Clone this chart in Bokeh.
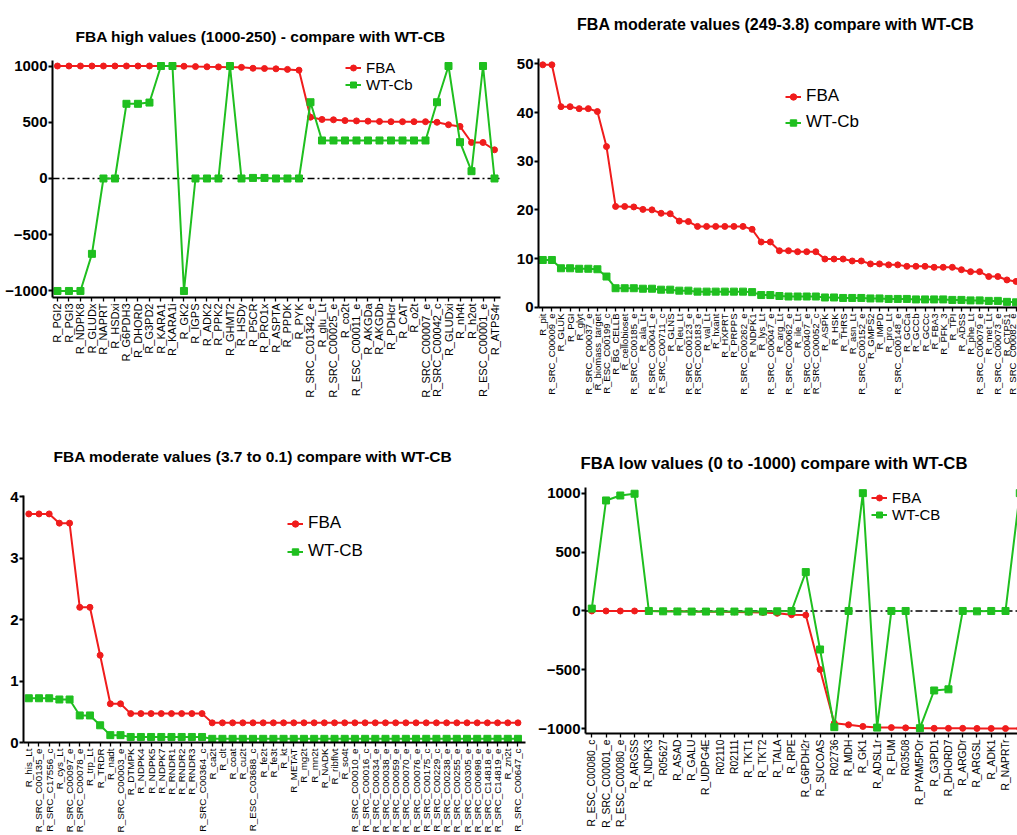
import math
from bokeh.plotting import figure
from bokeh.models import Range1d, FixedTicker, Legend, LegendItem, Span, Title
from bokeh.layouts import column, row
from bokeh.embed import file_html
from bokeh.resources import INLINE

# ---------------- data ----------------
labels1 = ["R_PGI2", "R_PGI3", "R_NDPK8", "R_GLUDx", "R_NAPRT", "R_HSDxi", "R_G6PDH3", "R_DHORD",
           "R_G3PD2", "R_KARA1", "R_KARA1i", "R_GK2", "R_IGPS", "R_ADK2", "R_PPK2", "R_GHMT2",
           "R_HSDy", "R_P5CR", "R_PRO1x", "R_ASPTA", "R_PPDK", "R_PYK", "R_SRC_C01342_e", "R_glu_Lt",
           "R_SRC_C00025_e", "R_co2t", "R_ESC_C00011_e", "R_AKGDa", "R_AKGDb", "R_PDHcr", "R_CAT",
           "R_o2t", "R_SRC_C00007_e", "R_SRC_C00042_c", "R_GLUDxi", "R_nh4t", "R_h2ot",
           "R_ESC_C00001_e", "R_ATPS4r"]
fba1 = [1000, 1000, 1000, 1000, 1000, 1000, 1000, 1000, 1000, 1000, 1000, 998, 995, 993, 992, 990,
        988, 980, 978, 975, 970, 963, 545, 525, 522, 515, 512, 510, 507, 505, 505, 505, 505, 500,
        478, 463, 320, 320, 255]
wt1 = [-1000, -1000, -1000, -670, 0, 0, 664, 664, 675, 1000, 1000, -1000, 0, 0, 0, 1000,
       0, 5, 5, 0, 0, 0, 678, 338, 338, 338, 338, 338, 338, 338, 338, 338, 338, 678,
       1000, 323, 65, 1000, 0]

labels2 = ["R_pit", "R_SRC_C00009_e", "R_GLUK", "R_PGI", "R_glyt", "R_SRC_C00037_e",
           "R_biomass_target", "R_ESC_C00199_c", "R_BG_CELLB", "R_cellobioset", "R_SRC_C00185_e",
           "R_ala_Lt", "R_SRC_C00041_e", "R_SRC_C00711_c", "R_GLNS", "R_leu_Lt", "R_SRC_C00123_e",
           "R_SRC_C00183_e", "R_val_Lt", "R_hxant", "R_HXPRT", "R_PRPPS", "R_SRC_C00262_e",
           "R_NDPK1", "R_lys_Lt", "R_SRC_C00047_e", "R_arg_Lt", "R_SRC_C00062_e", "R_ile_Lt",
           "R_SRC_C00407_e", "R_SRC_C00052_c", "R_ASPK", "R_HSK", "R_THRS", "R_asn_Lt",
           "R_SRC_C00152_e", "R_GMPS2", "R_IMPD", "R_pro_Lt", "R_SRC_C00148_e", "R_GCCa", "R_GCCb",
           "R_GCCc", "R_FBA3", "R_PFK_3", "R_TPI", "R_ADSS", "R_phe_Lt", "R_SRC_C00079_e",
           "R_met_Lt", "R_SRC_C00073_e", "R_CTPS1", "R_SRC_C00082_e"]
fba2 = [49.8, 49.8, 41.2, 41.2, 40.8, 40.8, 40.2, 33.0, 20.7, 20.7,
        20.6, 20.1, 20.0, 19.3, 19.2, 17.7, 17.6, 16.6, 16.6, 16.6,
        16.6, 16.6, 16.6, 16.0, 13.4, 13.4,
        11.6, 11.6, 11.4, 11.4, 11.4, 9.9, 9.9, 9.9, 9.5, 9.5,
        8.9, 8.9, 8.7, 8.7, 8.4, 8.4, 8.4, 8.2, 8.2, 8.2,
        7.7, 7.3, 7.3, 6.3, 6.3, 5.6, 5.3]
wt2 = [9.7, 9.7, 8.0, 8.0, 7.9, 7.9, 7.8, 6.3, 3.9, 3.9,
       3.9, 3.8, 3.8, 3.6, 3.6, 3.4, 3.4, 3.2, 3.2, 3.2,
       3.2, 3.2, 3.2, 3.1, 2.5, 2.5,
       2.3, 2.2, 2.2, 2.2, 2.2, 2.0, 2.0, 1.9, 1.9, 1.9,
       1.8, 1.8, 1.7, 1.7, 1.7, 1.6, 1.6, 1.6, 1.6, 1.5,
       1.5, 1.4, 1.4, 1.3, 1.3, 1.1, 1.0]

labels3 = ["R_his_Lt", "R_SRC_C00135_e", "R_SRC_C17556_c", "R_cys_Lt", "R_SRC_C00097_e",
           "R_SRC_C00078_e", "R_trp_Lt", "R_TRDR", "R_nadt", "R_SRC_C00003_e", "R_DTMPK",
           "R_NDPK4", "R_NDPK5", "R_NDPK7", "R_RNDR1", "R_RNDR2", "R_RNDR3", "R_SRC_C00364_c",
           "R_ca2t", "R_clt", "R_coat", "R_cu2t", "R_ESC_C03688_c", "R_fe2t", "R_fe3t", "R_kt",
           "R_METAT", "R_mg2t", "R_mn2t", "R_NADK", "R_ribflvt", "R_so4t", "R_SRC_C00010_e",
           "R_SRC_C00016_c", "R_SRC_C00034_e", "R_SRC_C00038_e", "R_SRC_C00059_e",
           "R_SRC_C00070_e", "R_SRC_C00076_e", "R_SRC_C00175_c", "R_SRC_C00229_c",
           "R_SRC_C00238_e", "R_SRC_C00255_e", "R_SRC_C00305_e", "R_SRC_C00698_e",
           "R_SRC_C14818_e", "R_SRC_C14819_e", "R_zn2t", "R_SRC_C00647_c"]
fba3 = [3.72, 3.72, 3.72, 3.57, 3.57, 2.20, 2.20, 1.42, 0.63, 0.63,
        0.47, 0.47, 0.47, 0.47, 0.47, 0.47, 0.47, 0.47,
        0.32, 0.32, 0.32, 0.32, 0.32, 0.32, 0.32, 0.32, 0.32, 0.32,
        0.32, 0.32, 0.32, 0.32, 0.32, 0.32, 0.32, 0.32, 0.32, 0.32,
        0.32, 0.32, 0.32, 0.32, 0.32, 0.32, 0.32, 0.32, 0.32, 0.32, 0.32]
wt3 = [0.72, 0.72, 0.72, 0.70, 0.70, 0.44, 0.44, 0.28, 0.12, 0.12,
       0.09, 0.09, 0.09, 0.09, 0.09, 0.09, 0.09, 0.09,
       0.06, 0.06, 0.06, 0.06, 0.06, 0.06, 0.06, 0.06, 0.06, 0.06,
       0.06, 0.06, 0.06, 0.06, 0.06, 0.06, 0.06, 0.06, 0.06, 0.06,
       0.06, 0.06, 0.06, 0.06, 0.06, 0.06, 0.06, 0.06, 0.06, 0.06, 0.06]

labels4 = ["R_ESC_C00080_c", "R_SRC_C00001_e", "R_ESC_C00080_e", "R_ARGSS", "R_NDPK3", "R05627",
           "R_ASAD", "R_GALU", "R_UDPG4E", "R02110", "R02111", "R_TKT1", "R_TKT2", "R_TALA",
           "R_RPE", "R_G6PDH2r", "R_SUCOAS", "R02736", "R_MDH", "R_GK1", "R_ADSL1r", "R_FUM",
           "R03508", "R_PYAM5POr", "R_G3PD1", "R_DHORD7", "R_ARGDr", "R_ARGSL", "R_ADK1",
           "R_NAPRTr", "R_"]
fba4 = [0, 0, 0, 0, 0, -2, -3, -5, -6, -7, -8, -10, -12, -20, -32, -35, -497, -952, -966,
        -980, -990, -990, -992, -995, -996, -996, -996, -997, -997, -998, -998]
wt4 = [20, 938, 980, 995, 0, -3, -4, -5, -5, -5, -5, -5, -5, -3, 0, 330, -327, -986, 0,
       1000, -990, 0, 0, -995, -675, -665, 0, -3, 0, 0, 1000]

titles = ["FBA high values (1000-250) - compare with WT-CB",
          "FBA moderate values (249-3.8)  compare with WT-CB",
          "FBA moderate values (3.7 to 0.1) compare with WT-CB",
          "FBA low values (0 to -1000) compare with WT-CB"]

RED = "#f01c1c"
GREEN = "#1fbf1f"
FONT = "Liberation Sans"


def make_panel(title, labels, fba, wt, wt_name, width, height, borders, xr, yr, yticks,
               xfont, title_font, title_align, title_off, spacer,
               leg_loc, leg_font, leg_h, leg_sp, zero_line):
    bl, br, bt, bb = borders
    p = figure(width=width, height=height, output_backend="svg", toolbar_location=None,
               x_range=Range1d(*xr), y_range=Range1d(*yr),
               min_border_left=bl, min_border_right=br,
               min_border_top=bt, min_border_bottom=bb)
    p.frame_align = False
    p.outline_line_color = None
    p.xgrid.visible = False
    p.ygrid.visible = False
    p.background_fill_color = "white"
    p.border_fill_color = "white"

    # empty spacer between the frame and the title
    p.add_layout(Title(text=" ", text_font_size="1px", standoff=spacer), "above")

    p.title.text = title
    p.title.text_font = FONT
    p.title.text_font_size = title_font
    p.title.text_font_style = "bold"
    p.title.text_color = "black"
    p.title.align = title_align
    p.title.vertical_align = "top"
    p.title.offset = title_off
    p.title.standoff = 0

    xs = list(range(len(labels)))
    if zero_line:
        span = Span(location=0, dimension="width", line_color="black", line_width=1.6,
                    line_dash="7 3 2 3", level="underlay")
        p.add_layout(span)

    rl = p.line(xs, fba, line_color=RED, line_width=2)
    rs = p.scatter(xs, fba, marker="circle", size=6, color=RED)
    gl = p.line(xs, wt, line_color=GREEN, line_width=2)
    gs = p.scatter(xs, wt, marker="square", size=7, color=GREEN)

    xa = p.xaxis[0]
    xa.ticker = FixedTicker(ticks=xs)
    xa.major_label_overrides = {i: lab for i, lab in enumerate(labels)}
    xa.major_label_orientation = math.pi / 2
    xa.major_label_text_font = FONT
    xa.major_label_text_font_size = xfont
    xa.major_label_text_color = "black"
    xa.major_label_standoff = 2
    xa.axis_line_width = 2
    xa.axis_line_color = "black"
    xa.major_tick_line_width = 1.3
    xa.major_tick_line_color = "black"
    xa.major_tick_out = 4
    xa.major_tick_in = 0
    xa.minor_tick_out = 0

    ya = p.yaxis[0]
    ya.ticker = FixedTicker(ticks=yticks)
    ya.major_label_text_font = FONT
    ya.major_label_text_font_size = "15px"
    ya.major_label_text_font_style = "bold"
    ya.major_label_text_color = "black"
    ya.major_label_standoff = 1
    ya.axis_line_width = 2
    ya.axis_line_color = "black"
    ya.major_tick_line_width = 2
    ya.major_tick_line_color = "black"
    ya.major_tick_out = 4
    ya.major_tick_in = 0
    ya.minor_tick_out = 0
    ya.minor_tick_in = 0

    legend = Legend(items=[LegendItem(label="FBA", renderers=[rl, rs]),
                           LegendItem(label=wt_name, renderers=[gl, gs])],
                    location=leg_loc)
    legend.border_line_color = None
    legend.background_fill_alpha = 0
    legend.label_text_font = FONT
    legend.label_text_font_size = leg_font
    legend.label_text_color = "black"
    legend.glyph_width = 16
    legend.glyph_height = leg_h
    legend.label_height = leg_h
    legend.spacing = leg_sp
    legend.padding = 0
    legend.margin = 0
    legend.label_standoff = 5
    p.add_layout(legend)
    return p


p1 = make_panel(titles[0], labels1, fba1, wt1, "WT-Cb",
                510, 430, (52, 10, 60, 133), (-0.43, 38.52), (-1058, 1049),
                [-1000, -500, 0, 500, 1000], "11px", "15.5px", "left", 23, 11,
                (293, 204), "15px", 15, 0, True)
p2 = make_panel(titles[1], labels2, fba2, wt2, "WT-Cb",
                507, 430, (28, 0, 58, 123), (-0.47, 52.16), (-0.06, 51.1),
                [0, 10, 20, 30, 40, 50], "9.5px", "16px", "center", 0, 21,
                (247, 175), "17px", 17, 6, False)
p3 = make_panel(titles[2], labels3, fba3, wt3, "WT-CB",
                535, 405, (23, 10, 65, 90), (-0.52, 48.74), (0, 4.02),
                [0, 1, 2, 3, 4], "9.8px", "15.5px", "left", 30, 26,
                (264, 181), "17px", 17, 8, False)
p4 = make_panel(titles[3], labels4, fba4, wt4, "WT-CB",
                482, 405, (46, 0, 57, 102), (-0.44, 29.84), (-1040, 1048),
                [-1000, -500, 0, 500, 1000], "10.3px", "16.7px", "left", -5, 10,
                (286, 210), "15px", 15, -2, True)

layout = column(row(p1, p2), row(p3, p4))
open("out.html", "w").write(file_html(layout, INLINE))
